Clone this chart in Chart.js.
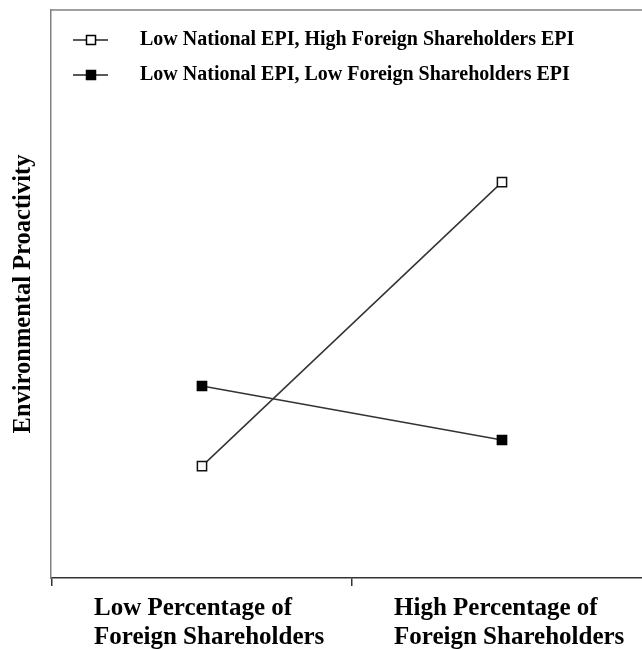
<!DOCTYPE html>
<html>
<head>
<meta charset="utf-8">
<script src="https://cdn.jsdelivr.net/npm/chart.js@4.4.0/dist/chart.umd.min.js"></script>
<style>
  html, body { margin: 0; padding: 0; background: #ffffff; overflow: hidden; }
  #c { display: block; }
</style>
</head>
<body>
<canvas id="c" width="642" height="649"></canvas>
<script>
// ---- data ----
const categories = [
  ['Low Percentage of', 'Foreign Shareholders'],
  ['High Percentage of', 'Foreign Shareholders']
];
const seriesNames = [
  'Low National EPI, High Foreign Shareholders EPI',
  'Low National EPI, Low Foreign Shareholders EPI'
];
const highForeignEPI = [19.7, 69.7];
const lowForeignEPI = [33.8, 24.3];
const yTitle = 'Environmental Proactivity';

const FONT = "'Liberation Serif', 'Times New Roman', serif";

function toPoints(values) {
  return values.map((v, i) => ({ x: i, y: v }));
}

function makeIcon(filled) {
  const cv = document.createElement('canvas');
  cv.width = 64; cv.height = 14;
  const g = cv.getContext('2d');
  g.strokeStyle = '#222';
  g.lineWidth = 1.5;
  g.beginPath(); g.moveTo(7, 7); g.lineTo(42, 7); g.stroke();
  g.fillStyle = filled ? '#000' : '#fff';
  g.fillRect(20.5, 2.5, 9, 9);
  g.strokeStyle = '#000';
  g.strokeRect(20.5, 2.5, 9, 9);
  return cv;
}
const legendIcons = [makeIcon(false), makeIcon(true)];

const frameTop = {
  id: 'frameTop',
  afterDraw(chart) {
    const { ctx, chartArea } = chart;
    ctx.save();
    ctx.strokeStyle = '#808080';
    ctx.lineWidth = 1.5;
    ctx.beginPath();
    ctx.moveTo(chartArea.left - 0.75, chartArea.top);
    ctx.lineTo(chartArea.right, chartArea.top);
    ctx.stroke();
    ctx.restore();
  }
};

new Chart(document.getElementById('c'), {
  type: 'line',
  data: {
    datasets: [
      {
        label: seriesNames[0],
        data: toPoints(highForeignEPI),
        borderColor: '#333',
        borderWidth: 1.5,
        pointStyle: 'rect',
        pointRadius: 6.5,
        pointBackgroundColor: '#fff',
        pointBorderColor: '#111',
        pointBorderWidth: 1.5,
        tension: 0
      },
      {
        label: seriesNames[1],
        data: toPoints(lowForeignEPI),
        borderColor: '#333',
        borderWidth: 1.5,
        pointStyle: 'rect',
        pointRadius: 6.5,
        pointBackgroundColor: '#000',
        pointBorderColor: '#000',
        pointBorderWidth: 1.5,
        tension: 0
      }
    ]
  },
  options: {
    responsive: false,
    animation: false,
    devicePixelRatio: 1,
    layout: { autoPadding: false, padding: { top: 10, right: 0, left: 0, bottom: 0 } },
    scales: {
      x: {
        type: 'linear',
        min: -0.5033,
        max: 1.4667,
        afterBuildTicks(scale) {
          scale.ticks = categories.map((c, i) => ({ value: i }));
        },
        afterFit(scale) {
          scale.height = 71;
          scale.paddingLeft = 0;
          scale.paddingRight = 0;
        },
        grid: {
          display: true,
          offset: true,
          drawOnChartArea: false,
          drawTicks: true,
          tickLength: 8,
          color: '#333',
          lineWidth: 1.5
        },
        border: { display: true, color: '#333', width: 1.5 },
        ticks: {
          autoSkip: false,
          maxRotation: 0,
          minRotation: 0,
          align: 'start',
          labelOffset: -108,
          padding: 8.5,
          color: '#000',
          font: { family: FONT, size: 25, weight: 'bold', lineHeight: 1.16 },
          callback(value) { return categories[value] || ''; }
        }
      },
      y: {
        min: 0,
        max: 100,
        afterFit(scale) { scale.width = 51; },
        grid: { display: false },
        border: { display: true, color: '#808080', width: 1.5 },
        ticks: { display: false },
        title: {
          display: true,
          text: yTitle,
          color: '#000',
          padding: { top: 9, bottom: 0 },
          font: { family: FONT, size: 24.5, weight: 'bold', lineHeight: 1.2 }
        }
      }
    },
    plugins: {
      tooltip: { enabled: false },
      legend: {
        position: 'chartArea',
        align: 'start',
        title: { display: true, text: '', padding: { top: 12, bottom: 0 }, font: { size: 3, lineHeight: 1 } },
        labels: {
          usePointStyle: true,
          pointStyleWidth: 64,
          padding: 15,
          color: '#000',
          font: { family: FONT, size: 20, weight: 'bold' },
          generateLabels(chart) {
            const items = Chart.defaults.plugins.legend.labels.generateLabels(chart);
            items.forEach((it, i) => { it.pointStyle = legendIcons[i]; });
            return items;
          }
        }
      }
    }
  },
  plugins: [frameTop]
});
</script>
</body>
</html>
